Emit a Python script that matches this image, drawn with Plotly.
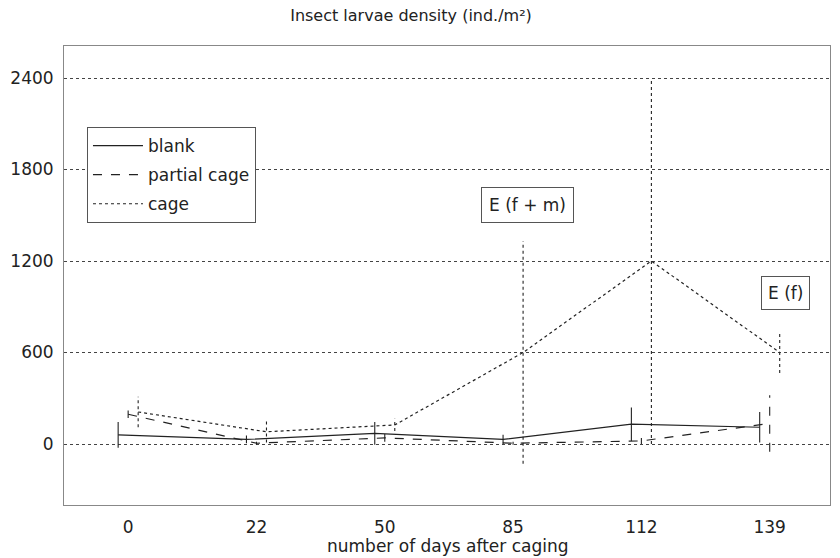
import plotly.graph_objects as go

# ---- data ----
days = ["0", "22", "50", "85", "112", "139"]
blank = [60, 30, 70, 30, 130, 110]
blank_err = [85, 25, 75, 30, 110, 100]
partial = [195, 5, 40, 5, 20, 135]
partial_err = [25, 10, 25, 10, 20, 185]
cage = [210, 80, 125, 600, 1200, 600]
cage_err = [100, 70, 40, 730, 1200, 135]
y_ticks = [0, 600, 1200, 1800, 2400]

FONT = "DejaVu Sans, Liberation Sans, Arial, sans-serif"
INK = "#222222"
FS = 17

series = [
    ("blank", blank, blank_err, "solid", -0.078),
    ("partial cage", partial, partial_err, "dash", 0.0),
    ("cage", cage, cage_err, "dot", 0.078),
]

fig = go.Figure()
idx = list(range(len(days)))
for name, vals, errs, dash, off in series:
    xs = [i + off for i in idx]
    fig.add_trace(go.Scatter(
        x=xs, y=vals, mode="lines", name=name, legendgroup=name,
        line=dict(color=INK, width=1.2, dash=dash),
    ))
    ex, ey = [], []
    for x, v, e in zip(xs, vals, errs):
        ex += [x, x, None]
        ey += [v - e, v + e, None]
    fig.add_trace(go.Scatter(
        x=ex, y=ey, mode="lines", showlegend=False, hoverinfo="skip",
        legendgroup=name, line=dict(color=INK, width=1.1, dash=dash),
    ))

fig.add_annotation(x=3.116, y=1567, text="E (f + m)", showarrow=False,
                   font=dict(family=FONT, size=FS, color=INK),
                   bordercolor="#555", borderwidth=1, borderpad=7, bgcolor="white")
fig.add_annotation(x=5.12, y=993, text="E (f)", showarrow=False,
                   font=dict(family=FONT, size=FS, color=INK),
                   bordercolor="#555", borderwidth=1, borderpad=6, bgcolor="white")

fig.add_annotation(xref="paper", yref="paper", x=(325 - 64) / 766, y=-(546 - 505) / 459,
                   xanchor="left", yanchor="middle", showarrow=False,
                   text="number of days after caging",
                   font=dict(family=FONT, size=FS, color=INK))

fig.update_layout(
    width=840, height=558,
    margin=dict(l=64, r=10, t=46, b=53),
    paper_bgcolor="white", plot_bgcolor="white",
    font=dict(family=FONT, size=FS, color=INK),
    title=dict(text="Insect larvae density (ind./m²)", x=411 / 840, xanchor="center",
               y=1 - 15 / 558, yanchor="middle",
               font=dict(family=FONT, size=16, color=INK)),
    showlegend=True,
    legend=dict(x=0.030, y=0.8235, xanchor="left", yanchor="top",
                bordercolor="#555", borderwidth=1, bgcolor="white",
                font=dict(family=FONT, size=FS, color=INK),
                tracegroupgap=4, itemwidth=50),
)
fig.update_xaxes(
    range=[-0.5, 5.47], tickvals=idx, ticktext=days, showgrid=False,
    zeroline=False, showline=True, linecolor="#888", linewidth=1, mirror=True,
    ticks="", ticklabelstandoff=7, tickfont=dict(family=FONT, size=FS, color=INK),
)
fig.update_yaxes(
    range=[-400, 2610], tickvals=y_ticks, showgrid=True, gridcolor="#444",
    griddash="dot", gridwidth=1, zeroline=False, showline=True, linecolor="#888",
    linewidth=1, mirror=True, ticks="", ticklabelstandoff=6,
    tickfont=dict(family=FONT, size=FS, color=INK),
)

fig.write_html("out.html")
